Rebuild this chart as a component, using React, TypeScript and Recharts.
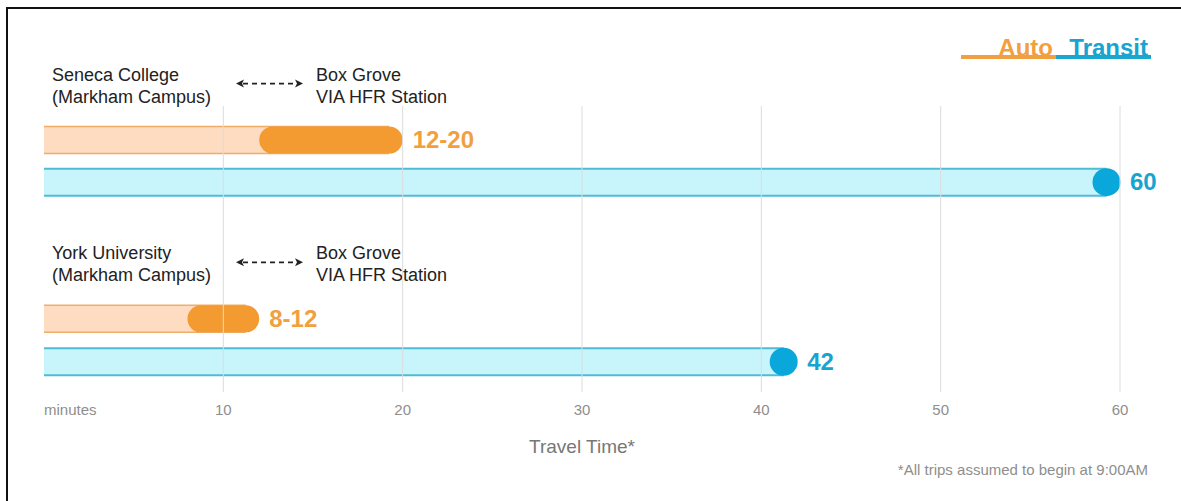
import { ComposedChart, Bar, XAxis, YAxis, ReferenceLine, Legend } from "recharts";

// trip endpoints
const origins = [
  ["Seneca College", "(Markham Campus)"],
  ["York University", "(Markham Campus)"],
];
const destination = ["Box Grove", "VIA HFR Station"];

// travel times, minutes
const autoMin = [12, 8];
const autoMax = [20, 12];
const transitMinutes = [60, 42];

// vertical slots on the (hidden) row axis
const autoRowPos = [0.8, 5.05];
const transitRowPos = [1.8, 6.07];

const gridTicks = [10, 20, 30, 40, 50, 60];
const axisTicks = [0, ...gridTicks];
const tickLabels = ["minutes", "10", "20", "30", "40", "50", "60"];

const ORANGE = "#f39a30";
const ORANGE_TEXT = "#f2a03e";
const ORANGE_LIGHT = "#fddcc1";
const ORANGE_EDGE = "#f1ad68";
const BLUE = "#0aa8da";
const BLUE_TEXT = "#17a4d0";
const CYAN_LIGHT = "#c7f5fb";
const CYAN_EDGE = "#4fbbd4";

const LABEL_FONT = "'Liberation Sans', Arial, sans-serif";
const NARROW_FONT = "'Liberation Sans Narrow', 'Liberation Sans', sans-serif";

const rows = origins.flatMap((origin, i) => [
  {
    row: autoRowPos[i],
    mode: "auto",
    value: autoMax[i],
    low: autoMin[i],
    label: `${autoMin[i]}-${autoMax[i]}`,
    origin,
  },
  {
    row: transitRowPos[i],
    mode: "transit",
    value: transitMinutes[i],
    label: `${transitMinutes[i]}`,
  },
]);

function RouteLabel({ x, top, origin }: { x: number; top: number; origin: string[] }) {
  const ay = top - 43;
  const ax1 = x + 192;
  const ax2 = x + 259;
  return (
    <g>
      <rect x={x - 4} y={top - 74} width={430} height={65} fill="#fff" />
      <g fontFamily={LABEL_FONT} fontSize={18} fill="#222">
        <text x={x + 8} y={top - 46}>{origin[0]}</text>
        <text x={x + 8} y={top - 24}>{origin[1]}</text>
        <text x={x + 272} y={top - 46}>{destination[0]}</text>
        <text x={x + 272} y={top - 24}>{destination[1]}</text>
      </g>
      <line x1={ax1 + 7} x2={ax2 - 7} y1={ay} y2={ay} stroke="#222" strokeWidth={1.6} strokeDasharray="5 4" />
      <polygon points={`${ax1},${ay} ${ax1 + 8},${ay - 4} ${ax1 + 6},${ay} ${ax1 + 8},${ay + 4}`} fill="#222" />
      <polygon points={`${ax2},${ay} ${ax2 - 8},${ay - 4} ${ax2 - 6},${ay} ${ax2 - 8},${ay + 4}`} fill="#222" />
    </g>
  );
}

function RouteBar(props: any) {
  const { x, y, width, height, payload } = props;
  const r = height / 2;
  const end = x + width;
  const cy = y + r;
  if (payload.mode === "auto") {
    const perMinute = width / payload.value;
    const lowX = x + payload.low * perMinute;
    return (
      <g>
        <RouteLabel x={x} top={y} origin={payload.origin} />
        <rect x={x} y={y} width={width - r} height={height} fill={ORANGE_LIGHT} />
        <line x1={x} x2={end - r} y1={y} y2={y} stroke={ORANGE_EDGE} strokeWidth={1.5} />
        <line x1={x} x2={end - r} y1={y + height} y2={y + height} stroke={ORANGE_EDGE} strokeWidth={1.5} />
        <rect x={lowX} y={y} width={end - lowX} height={height} rx={r} ry={r} fill={ORANGE} />
        <text
          x={end + 10}
          y={cy + 8}
          fontFamily={NARROW_FONT}
          fontWeight={700}
          fontSize={24}
          fill={ORANGE_TEXT}
        >
          {payload.label}
        </text>
      </g>
    );
  }
  return (
    <g>
      <rect x={x} y={y} width={width - r} height={height} fill={CYAN_LIGHT} />
      <line x1={x} x2={end - r} y1={y} y2={y} stroke={CYAN_EDGE} strokeWidth={2} />
      <line x1={x} x2={end - r} y1={y + height} y2={y + height} stroke={CYAN_EDGE} strokeWidth={2} />
      <circle cx={end - r} cy={cy} r={r + 0.5} fill={BLUE} />
      <text
        x={end + 10}
        y={cy + 8}
        fontFamily={NARROW_FONT}
        fontWeight={700}
        fontSize={24}
        fill={BLUE_TEXT}
      >
        {payload.label}
      </text>
    </g>
  );
}

function MinuteTick({ x, y, payload, index }: any) {
  const first = index === 0;
  return (
    <text
      x={x}
      y={y + 23}
      textAnchor={first ? "start" : "middle"}
      fontFamily={LABEL_FONT}
      fontSize={15}
      fill="#8e8e8e"
    >
      {tickLabels[axisTicks.indexOf(payload.value)]}
    </text>
  );
}

function ModeLegend() {
  const items = [
    { name: "Auto", color: ORANGE_TEXT, edge: "#f0a040" },
    { name: "Transit", color: BLUE_TEXT, edge: "#1aa6cf" },
  ];
  return (
    <div style={{ display: "flex" }}>
      {items.map((it) => (
        <div
          key={it.name}
          style={{
            width: 95,
            height: 22,
            lineHeight: "22px",
            textAlign: "right",
            paddingRight: 3,
            boxSizing: "border-box",
            borderBottom: `4px solid ${it.edge}`,
            color: it.color,
            fontFamily: NARROW_FONT,
            fontWeight: 700,
            fontSize: 24,
          }}
        >
          {it.name}
        </div>
      ))}
    </div>
  );
}

export default function App() {
  return (
    <div
      style={{
        position: "absolute",
        left: 0,
        top: 0,
        width: 1181,
        height: 501,
        background: "#fff",
        overflow: "hidden",
      }}
    >
      <div
        style={{
          position: "absolute",
          left: 6,
          top: 7,
          right: -10,
          bottom: -10,
          borderTop: "2px solid #111",
          borderLeft: "2px solid #111",
        }}
      />
      <ComposedChart
        width={1181}
        height={501}
        data={rows}
        layout="vertical"
        margin={{ top: 106, right: 61, bottom: 49, left: 44 }}
      >
        <XAxis
          type="number"
          dataKey="value"
          domain={[0, 60]}
          ticks={axisTicks}
          interval={0}
          tickLine={false}
          axisLine={false}
          tickSize={0}
          tickMargin={0}
          height={60}
          tick={<MinuteTick />}
          label={{
            value: "Travel Time*",
            position: "insideBottom",
            offset: -1,
            fill: "#777",
            fontSize: 19,
            fontFamily: LABEL_FONT,
          }}
        />
        <YAxis type="number" dataKey="row" domain={[0, 6.8]} hide />
        {gridTicks.map((t) => (
          <ReferenceLine key={t} x={t} stroke="#dcdcdc" strokeWidth={1} />
        ))}
        <Legend
          layout="vertical"
          align="center"
          verticalAlign="middle"
          wrapperStyle={{ top: 37, left: 961, width: 192 }}
          content={<ModeLegend />}
        />
        <Bar dataKey="value" barSize={27} shape={(p: any) => <RouteBar {...p} />} isAnimationActive={false} />
      </ComposedChart>
      <div
        style={{
          position: "absolute",
          right: 33,
          top: 461,
          lineHeight: "18px",
          fontFamily: NARROW_FONT,
          fontSize: 15,
          color: "#8e8e8e",
        }}
      >
        *All trips assumed to begin at 9:00AM
      </div>
    </div>
  );
}
